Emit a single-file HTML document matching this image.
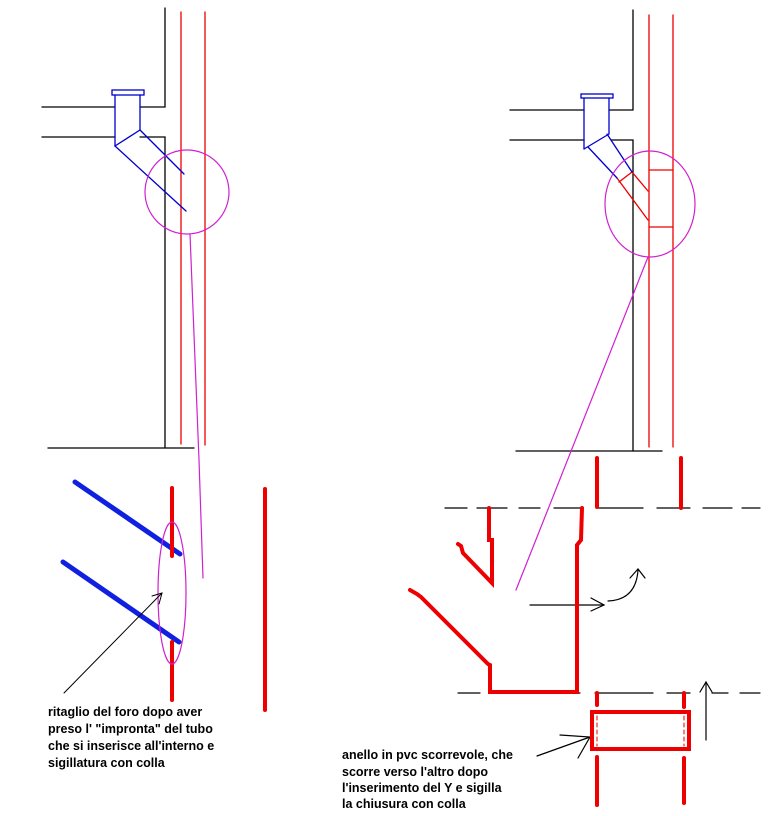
<!DOCTYPE html>
<html><head><meta charset="utf-8"><style>
html,body{margin:0;padding:0;background:#fff;}
svg{display:block;}
text{font-family:"Liberation Sans",sans-serif;font-weight:bold;font-size:12.5px;fill:#000;}
</style></head><body>
<svg width="782" height="816" viewBox="0 0 782 816" xmlns="http://www.w3.org/2000/svg">
<g fill="none" stroke-linecap="round">
<!-- LEFT TOP -->
<g stroke="#000" stroke-width="1.3">
<polyline points="165,8 165,107 140,107"/>
<line x1="42" y1="107" x2="115" y2="107"/>
<line x1="42" y1="137" x2="115" y2="137"/>
<polyline points="140,137 165,137 165,448"/>
<line x1="48" y1="448" x2="194" y2="448"/>
</g>
<g stroke="#e00" stroke-width="1.3">
<line x1="181" y1="12" x2="181" y2="444"/>
<line x1="205" y1="12" x2="205" y2="445"/>
</g>
<g stroke="#00c" stroke-width="1.3">
<rect x="112" y="90" width="32" height="5"/>
<line x1="115" y1="95" x2="115" y2="146"/>
<line x1="140" y1="95" x2="140" y2="130"/>
<line x1="115" y1="146" x2="140" y2="130"/>
<line x1="140" y1="130" x2="184" y2="174"/>
<line x1="115" y1="146" x2="186" y2="211"/>
</g>
<ellipse cx="187" cy="192" rx="42" ry="42" stroke="#d020d0" stroke-width="1.2"/>
<polyline points="190,234 199,460 203,578" stroke="#d020d0" stroke-width="1.2"/>

<!-- LEFT BOTTOM -->
<g stroke="#1020e0" stroke-width="5">
<line x1="75" y1="482" x2="180" y2="554"/>
<line x1="63" y1="562" x2="179" y2="642"/>
</g>
<g stroke="#e00" stroke-width="4">
<line x1="172" y1="488" x2="172" y2="556"/>
<line x1="172" y1="642" x2="172" y2="700"/>
<line x1="265" y1="489" x2="265" y2="710"/>
</g>
<ellipse cx="172" cy="593" rx="14" ry="71" stroke="#d020d0" stroke-width="1.2"/>
<g stroke="#000" stroke-width="1">
<line x1="64" y1="693" x2="162" y2="593"/>
<polyline points="152,596 162,593 159,604"/>
</g>

<!-- RIGHT TOP -->
<g stroke="#000" stroke-width="1.3">
<polyline points="633,10 633,110 609,110"/>
<line x1="510" y1="110" x2="584" y2="110"/>
<line x1="510" y1="140" x2="584" y2="140"/>
<polyline points="611,140 633,140 633,451"/>
<line x1="516" y1="451" x2="662" y2="451"/>
</g>
<g stroke="#e00" stroke-width="1.3">
<line x1="649" y1="15" x2="649" y2="447"/>
<line x1="673" y1="15" x2="673" y2="447"/>
<line x1="632" y1="172" x2="648" y2="191"/>
<line x1="619" y1="182" x2="632" y2="172"/>
<line x1="617" y1="178" x2="648" y2="220"/>
<line x1="649" y1="170" x2="673" y2="170"/>
<line x1="649" y1="227" x2="673" y2="227"/>
</g>
<g stroke="#00c" stroke-width="1.3">
<rect x="581" y="94" width="32" height="4"/>
<line x1="584" y1="98" x2="584" y2="149"/>
<line x1="609" y1="98" x2="609" y2="134"/>
<line x1="584" y1="149" x2="609" y2="134"/>
<line x1="607" y1="134" x2="632" y2="172"/>
<line x1="588" y1="147" x2="617" y2="178"/>
</g>
<ellipse cx="650" cy="204" rx="45" ry="53" stroke="#d020d0" stroke-width="1.2"/>
<line x1="648" y1="257" x2="516" y2="590" stroke="#d020d0" stroke-width="1.2"/>

<!-- RIGHT BOTTOM -->
<g stroke="#000" stroke-width="1.2">
<path d="M445 508H467M477 508H507M519 508H540M554 508H582M597 508H643M657 508H690M703 508H732M742 508H760"/>
<path d="M458 693H480M490 693H580M595 693H653M667 693H690M712 693H728M740 693H760"/>
<line x1="530" y1="605" x2="604" y2="605"/>
<polyline points="591,598 604,605 591,611"/>
<path d="M608 601 Q636 600 638 570"/>
<polyline points="630,578 638,569 645,578"/>
<line x1="706" y1="740" x2="706" y2="682"/>
<polyline points="700,692 706,682 712,692"/>
<line x1="537" y1="756" x2="590" y2="737"/>
<polyline points="560,735 590,737 578,758"/>
</g>
<g stroke="#e00" stroke-width="4" stroke-linejoin="miter">
<line x1="597" y1="458" x2="597" y2="507"/>
<line x1="681" y1="458" x2="681" y2="508"/>
<polyline points="489,508 489,540 492,540 492,583 463,553 461,546 458,544"/>
<polyline points="410,590 417,594 421,597 488,664 490,665 490,692 577,692 577,545 581,540 582,508"/>
<rect x="592" y="712" width="97" height="37"/>
<line x1="597" y1="693" x2="597" y2="705"/>
<line x1="684" y1="693" x2="684" y2="707"/>
<line x1="597" y1="757" x2="597" y2="805"/>
<line x1="684" y1="758" x2="684" y2="803"/>
</g>
<g stroke="#e00" stroke-width="1" stroke-dasharray="4,3">
<line x1="597" y1="716" x2="597" y2="746"/>
<line x1="684" y1="716" x2="684" y2="746"/>
</g>
</g>
<text x="48" y="716">ritaglio del foro dopo aver</text>
<text x="48" y="733">preso l' "impronta" del tubo</text>
<text x="48" y="750">che si inserisce all'interno e</text>
<text x="48" y="767">sigillatura con colla</text>
<text x="342" y="759">anello in pvc scorrevole, che</text>
<text x="342" y="776">scorre verso l'altro dopo</text>
<text x="342" y="792">l'inserimento del Y e sigilla</text>
<text x="342" y="808">la chiusura con colla</text>
</svg>
</body></html>
